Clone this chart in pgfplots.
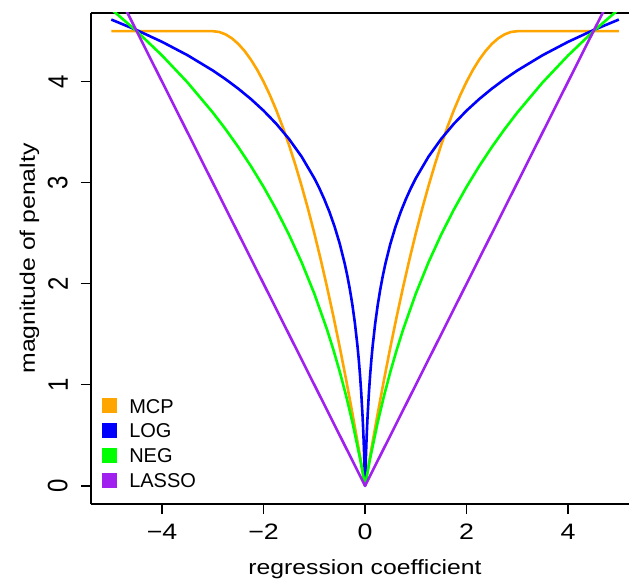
\documentclass[border=0pt]{standalone}
\usepackage{pgfplots}
\pgfplotsset{compat=1.18}
\usepackage{fontspec}
\setmainfont{Liberation Sans}
\definecolor{rorange}{HTML}{FFA500}
\definecolor{rblue}{HTML}{0000FF}
\definecolor{rgreen}{HTML}{00FF00}
\definecolor{rpurple}{HTML}{A020F0}
\begin{document}
\begin{tikzpicture}
\begin{axis}[
  scale only axis, width=538pt, height=491pt,
  xmin=-5.4, xmax=5.2, ymin=-0.18, ymax=4.68,
  axis x line=box, axis y line=left,
  axis line style={-, line width=1.4pt, black},
  xtick={-4,-2,0,2,4}, xticklabels={−4,−2,0,2,4},
  ytick={0,1,2,3,4}, yticklabels={0,1,2,3,4},
  xtick pos=bottom, ytick pos=left,
  tick align=outside, major tick length=10pt,
  tick style={line width=1.4pt, black},
  xticklabel style={font=\fontsize{22.3}{26}\selectfont, anchor=north, inner sep=0pt, yshift=-10pt, xscale=1.2},
  yticklabel style={font=\fontsize{24}{28}\selectfont, xshift=-13pt, rotate=90, anchor=south, inner sep=0pt, yscale=1.17},
  xlabel={regression coefficient},
  ylabel={magnitude of penalty},
  xlabel style={at={(axis description cs:0.5094,0)}, anchor=base, yshift=-70pt, inner sep=0pt, font=\fontsize{20.6}{24}\selectfont, xscale=1.2},
  ylabel style={at={(axis description cs:-0.1041,0.5)}, anchor=base, inner sep=0pt, font=\fontsize{21}{25}\selectfont, xscale=1.18},
  legend style={at={(axis description cs:0.0204,0.0336)}, anchor=south west, draw=none, fill=none, inner sep=0pt, outer sep=0pt, row sep=9.8pt, column sep=0pt, font=\fontsize{20}{24}\selectfont, nodes={inner sep=0pt, text height=15pt, text depth=0pt}},
  legend cell align=left,
  legend image code/.code={\fill[#1,draw=none] (0pt,-7.5pt) rectangle (15pt,7.5pt); \path (26pt,0pt);},
  every axis plot/.append style={line width=2.6pt, line join=round, mark=none},
]
\addplot[rorange] coordinates {
(-5,4.5)(-3,4.5)(-2.875,4.4922)(-2.75,4.46875)(-2.625,4.4297)(-2.5,4.375)(-2.375,4.3047)(-2.25,4.21875)(-2.125,4.1172)(-2,4)(-1.875,3.8672)(-1.75,3.71875)(-1.625,3.5547)(-1.5,3.375)(-1.375,3.1797)(-1.25,2.96875)(-1.125,2.7422)(-1,2.5)(-0.875,2.2422)(-0.75,1.96875)(-0.625,1.6797)(-0.5,1.375)(-0.375,1.0547)(-0.25,0.71875)(-0.125,0.3672)(0,0)
(0.125,0.3672)(0.25,0.71875)(0.375,1.0547)(0.5,1.375)(0.625,1.6797)(0.75,1.96875)(0.875,2.2422)(1,2.5)(1.125,2.7422)(1.25,2.96875)(1.375,3.1797)(1.5,3.375)(1.625,3.5547)(1.75,3.71875)(1.875,3.8672)(2,4)(2.125,4.1172)(2.25,4.21875)(2.375,4.3047)(2.5,4.375)(2.625,4.4297)(2.75,4.46875)(2.875,4.4922)(3,4.5)(5,4.5)
};
\addlegendentry{MCP}
\addplot[rblue] coordinates {
(-5,4.6151)(-4.5,4.5109)(-4,4.3945)(-3.5,4.2627)(-3,4.1109)(-2.75,4.0254)(-2.5,3.9318)(-2.25,3.8286)(-2,3.7136)(-1.75,3.5835)(-1.5,3.4340)(-1.25,3.2581)(-1,3.0445)(-0.9,2.9444)(-0.8,2.8332)(-0.7,2.7081)(-0.6,2.5649)(-0.5,2.3979)(-0.4,2.1972)(-0.35,2.0794)(-0.3,1.9459)(-0.25,1.7918)(-0.2,1.6094)(-0.15,1.3863)(-0.125,1.2528)(-0.1,1.0986)(-0.075,0.9163)(-0.05,0.6931)(-0.04,0.5878)(-0.03,0.4700)(-0.02,0.3365)(-0.015,0.2624)(-0.01,0.1823)(-0.005,0.0953)(-0.0025,0.0488)(0,0)
(0.0025,0.0488)(0.005,0.0953)(0.01,0.1823)(0.015,0.2624)(0.02,0.3365)(0.03,0.4700)(0.04,0.5878)(0.05,0.6931)(0.075,0.9163)(0.1,1.0986)(0.125,1.2528)(0.15,1.3863)(0.2,1.6094)(0.25,1.7918)(0.3,1.9459)(0.35,2.0794)(0.4,2.1972)(0.5,2.3979)(0.6,2.5649)(0.7,2.7081)(0.8,2.8332)(0.9,2.9444)(1,3.0445)(1.25,3.2581)(1.5,3.4340)(1.75,3.5835)(2,3.7136)(2.25,3.8286)(2.5,3.9318)(2.75,4.0254)(3,4.1109)(3.5,4.2627)(4,4.3945)(4.5,4.5109)(5,4.6151)
};
\addlegendentry{LOG}
\addplot[rgreen] coordinates {
(-5,4.7183)(-4.5,4.4998)(-4,4.2597)(-3.5,3.9936)(-3,3.6949)(-2.75,3.5307)(-2.5,3.3546)(-2.25,3.1649)(-2,2.9593)(-1.75,2.7347)(-1.5,2.4874)(-1.25,2.2123)(-1,1.9023)(-0.75,1.5472)(-0.625,1.3482)(-0.5,1.1316)(-0.375,0.8939)(-0.25,0.6307)(-0.1,0.2721)(-0.05,0.1398)(0,0)
(0.05,0.1398)(0.1,0.2721)(0.25,0.6307)(0.375,0.8939)(0.5,1.1316)(0.625,1.3482)(0.75,1.5472)(1,1.9023)(1.25,2.2123)(1.5,2.4874)(1.75,2.7347)(2,2.9593)(2.25,3.1649)(2.5,3.3546)(2.75,3.5307)(3,3.6949)(3.5,3.9936)(4,4.2597)(4.5,4.4998)(5,4.7183)
};
\addlegendentry{NEG}
\addplot[rpurple] coordinates {(-5,5)(0,0)(5,5)};
\addlegendentry{LASSO}
\end{axis}
\pgfresetboundingbox
\path[use as bounding box] ([shift={(-91pt,-75pt)}]current axis.south west) rectangle ([shift={(538pt,504pt)}]current axis.south west);
\end{tikzpicture}
\end{document}
